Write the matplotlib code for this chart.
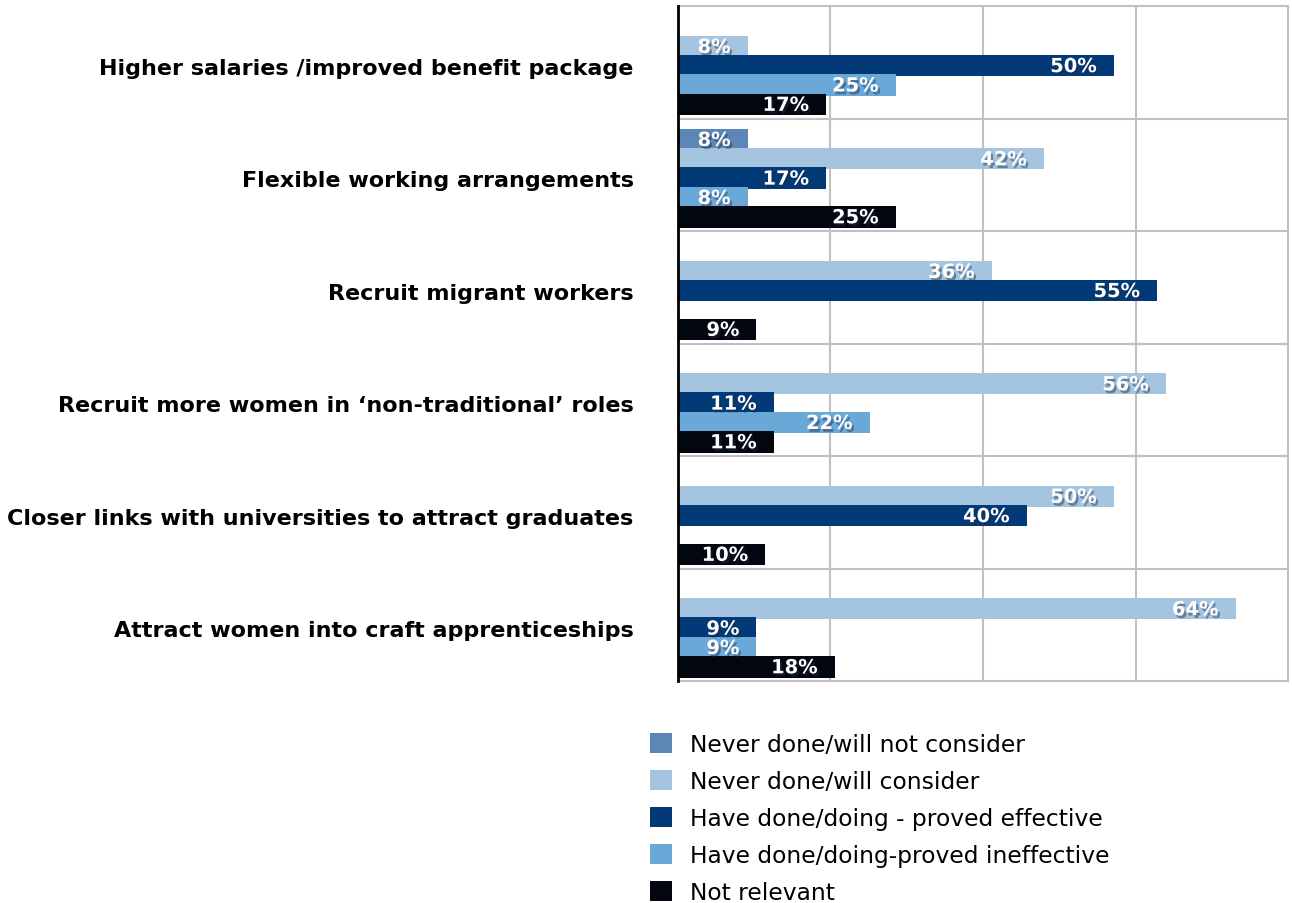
import numpy as np
import matplotlib
matplotlib.use("Agg")
import matplotlib.pyplot as plt
import matplotlib.patheffects as pe
from matplotlib.patches import Patch

categories = [
    "Higher salaries /improved benefit package",
    "Flexible working arrangements",
    "Recruit migrant workers",
    "Recruit more women in \u2018non-traditional\u2019 roles",
    "Closer links with universities to attract graduates",
    "Attract women into craft apprenticeships",
]

series_names = [
    "Never done/will not consider",
    "Never done/will consider",
    "Have done/doing - proved effective",
    "Have done/doing-proved ineffective",
    "Not relevant",
]

# percentages per category, 0 = no answer in that group
never_not_consider = [0, 8, 0, 0, 0, 0]
never_will_consider = [8, 42, 36, 56, 50, 64]
done_effective = [50, 17, 55, 11, 40, 9]
done_ineffective = [25, 8, 0, 22, 0, 9]
not_relevant = [17, 25, 9, 11, 10, 18]

series = [never_not_consider, never_will_consider, done_effective,
          done_ineffective, not_relevant]
colors = ["#5b86b6", "#a4c4e0", "#023a78", "#6aa8d8", "#01060f"]

plt.rcParams["font.family"] = "DejaVu Sans"

fig = plt.figure(figsize=(12.92, 9.04), dpi=100)
ax = fig.add_axes([678 / 1292, 1 - 682 / 904, 610 / 1292, 675 / 904])

y = np.arange(len(categories))
slot = 0.172
bar_h = 0.19
shift = 0.03

shadow = [pe.withSimplePatchShadow(offset=(1.5, -2), shadow_rgbFace="#202840", alpha=0.45)]

for k, (vals, col) in enumerate(zip(series, colors)):
    pos = y + (k - 2) * slot + shift
    for yy, v in zip(pos, vals):
        if v <= 0:
            continue
        ax.barh(yy, v / 100, height=bar_h, color=col, zorder=3 + k * 0.01)
        t = ax.annotate(f"{v}%", xy=(v / 100, yy), xytext=(-17, -1),
                        textcoords="offset pixels", ha="right", va="center",
                        color="white", fontsize=14, fontweight="bold", zorder=5)
        t.set_path_effects(shadow)

ax.set_xlim(0, 0.70)
ax.set_ylim(len(categories) - 0.5, -0.5)

ax.set_xticks([0.175, 0.35, 0.525])
ax.set_xticklabels([])
ax.tick_params(axis="x", length=0)
ax.set_yticks(y + shift)
ax.set_yticklabels(categories, fontsize=16, fontweight="bold")
ax.tick_params(axis="y", length=0, pad=32)

for b in np.arange(0.5, len(categories) - 0.5, 1):
    ax.axhline(b, color="#c0c0c0", lw=1.5, zorder=1)
ax.grid(axis="x", color="#c0c0c0", lw=1.5, zorder=1)
ax.set_axisbelow(True)

for side in ["top", "right", "bottom"]:
    ax.spines[side].set_color("#c0c0c0")
    ax.spines[side].set_linewidth(1.5)
ax.spines["left"].set_color("black")
ax.spines["left"].set_linewidth(2)
ax.spines["left"].set_zorder(6)

handles = [Patch(facecolor=c, edgecolor="none") for c in colors]
fig.legend(handles, series_names, loc="upper left",
           bbox_to_anchor=(650 / 1292, 1 - 734 / 904), frameon=False,
           fontsize=16.8, borderpad=0, borderaxespad=0,
           handlelength=0.95, handleheight=0.95,
           handletextpad=0.75, labelspacing=0.6)

fig.savefig("out.png", dpi=100)
